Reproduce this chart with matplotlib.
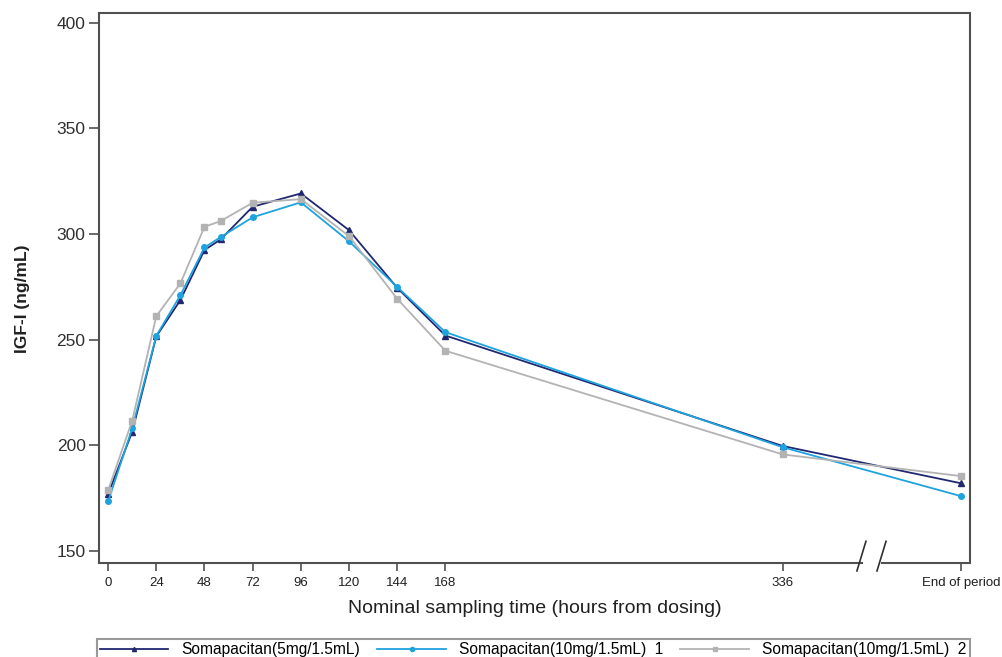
import matplotlib
matplotlib.use("Agg")
import matplotlib.pyplot as plt
import matplotlib.transforms as mtransforms

plt.rcParams['font.family'] = ['Liberation Sans', 'DejaVu Sans']

# nominal sampling times; "End of period" sits after the axis break
end_pos = 425
hours = [0, 12, 24, 36, 48, 56, 72, 96, 120, 144, 168, 336, end_pos]
tick_pos = [0, 24, 48, 72, 96, 120, 144, 168, 336, end_pos]
tick_labels = ["0", "24", "48", "72", "96", "120", "144", "168", "336", "End of period"]

igf_5mg = [176.8, 206.3, 251.5, 268.7, 292.4, 297.4, 312.9, 319.2, 301.8, 274.5, 251.9, 199.6, 181.9]
igf_10mg_1 = [173.3, 208.0, 251.8, 271.0, 293.6, 298.5, 307.9, 315.0, 296.5, 274.9, 253.5, 199.0, 175.8]
igf_10mg_2 = [178.6, 211.6, 261.1, 276.6, 303.4, 306.1, 314.8, 316.5, 299.0, 269.3, 244.7, 195.6, 185.3]

labels = ["Somapacitan(5mg/1.5mL)", "Somapacitan(10mg/1.5mL)  1", "Somapacitan(10mg/1.5mL)  2"]
colors = ["#1f2870", "#1ea3df", "#b3b3b3"]
markers = ["^", "o", "s"]

fig = plt.figure(figsize=(10.02, 6.57), dpi=100)
ax = fig.add_axes([0.0993, 0.1435, 0.8687, 0.8365])

series = [igf_5mg, igf_10mg_1, igf_10mg_2]
for vals, lab, col, mk in zip(series, labels, colors, markers):
    ax.plot(hours, vals, color=col, marker=mk, markersize=4, linewidth=1.3, label=lab)

ax.set_xlim(-4.3, 429.3)
ax.set_ylim(144.3, 404.6)
ax.set_yticks([150, 200, 250, 300, 350, 400])
ax.set_xticks(tick_pos)
ax.set_xticklabels(tick_labels)
ax.tick_params(axis='y', labelsize=12.5, length=7, width=1.2, pad=3, color='#505050', labelcolor='#303030')
ax.tick_params(axis='x', labelsize=9.5, length=6, width=1.2, pad=4, color='#505050', labelcolor='#202020')

for side in ['left', 'top', 'right']:
    ax.spines[side].set_color('#505050')
    ax.spines[side].set_linewidth(1.5)
ax.spines['bottom'].set_visible(False)

# bottom spine with a break between 336 and End of period
brk_lo, brk_hi = 375.5, 385.5
trans = mtransforms.blended_transform_factory(ax.transData, ax.transAxes)
ax.plot([-4.3, brk_lo], [0, 0], transform=trans, color='#505050', lw=1.5, clip_on=False)
ax.plot([brk_hi, 429.3], [0, 0], transform=trans, color='#505050', lw=1.5, clip_on=False)
for bx in [brk_lo, brk_hi]:
    ax.plot([bx - 2.5, bx + 2.0], [-0.015, 0.039], transform=trans, color='#303030', lw=1.2, clip_on=False)

ax.set_ylabel("IGF-I (ng/mL)", fontsize=12.5, fontweight='bold', color='#202020')
ax.yaxis.set_label_coords(-0.080, 0.48)
ax.set_xlabel("Nominal sampling time (hours from dosing)", fontsize=14, labelpad=8, color='#202020')

leg = fig.legend(loc='upper left', bbox_to_anchor=(0.0965, 0.0274), ncol=3, fontsize=11.2,
                 handlelength=4.4, handletextpad=0.85, columnspacing=1.1,
                 frameon=True, fancybox=False, borderaxespad=0, borderpad=0.2)
leg.get_frame().set_edgecolor('#808080')
leg.get_frame().set_linewidth(1.5)
for h in leg.legend_handles:
    h.set_markersize(3)

fig.savefig("out.png", dpi=100)
